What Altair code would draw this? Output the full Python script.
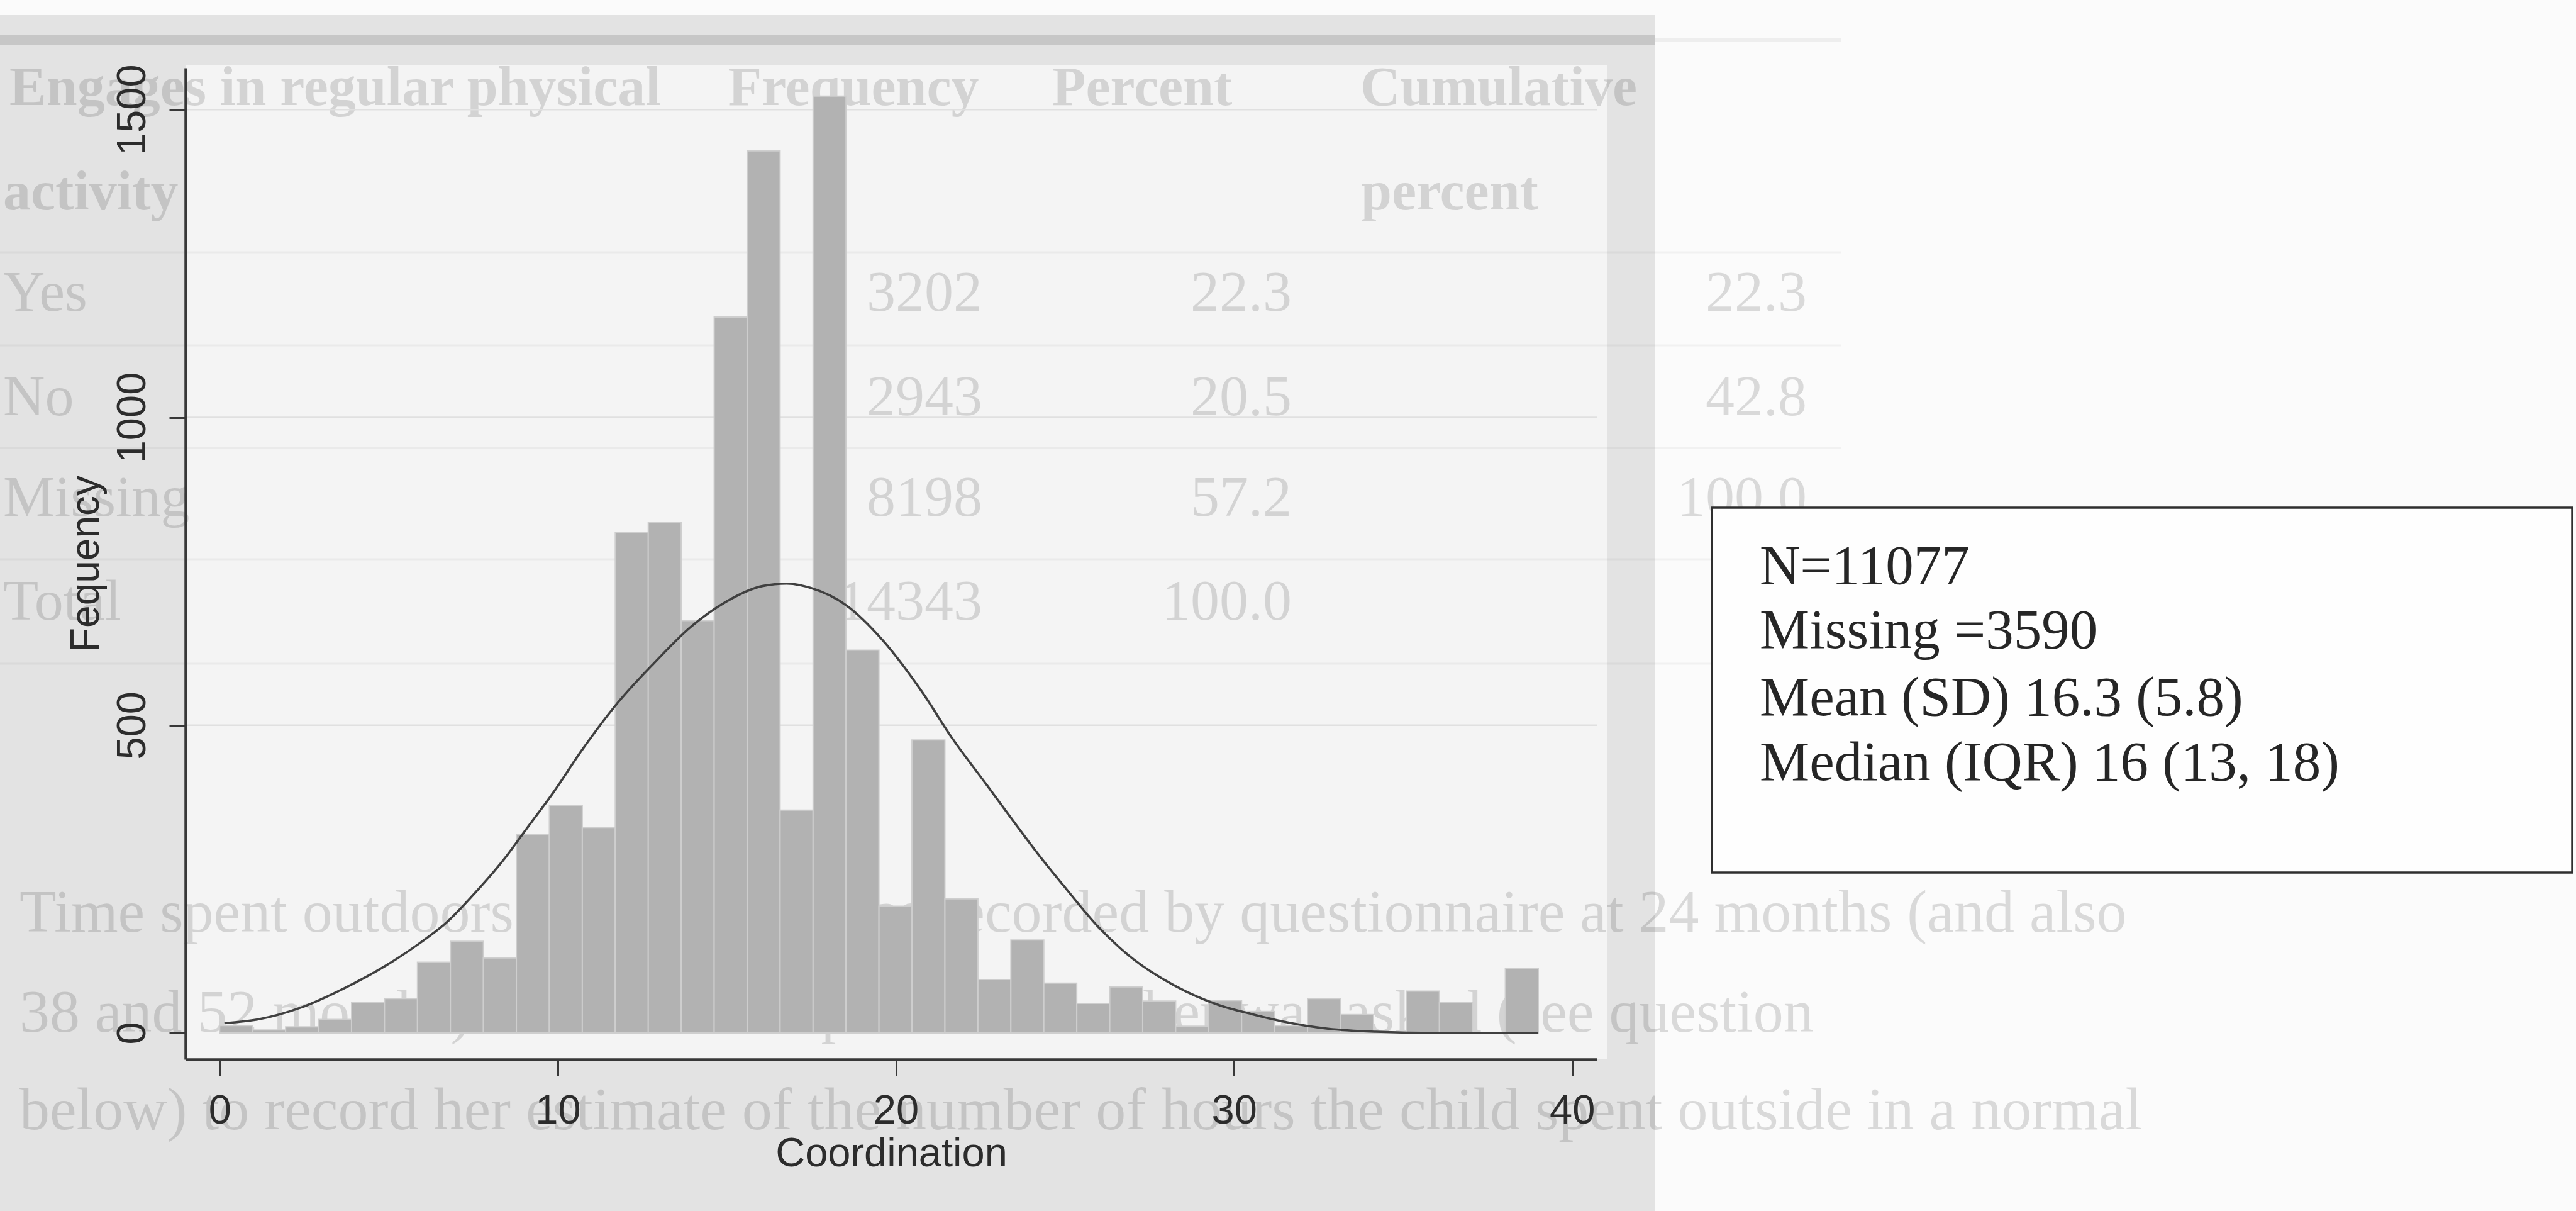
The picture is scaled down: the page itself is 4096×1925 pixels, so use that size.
import altair as alt
import pandas as pd

# ---------------- data ----------------
scores = list(range(40))                      # Coordination score of each bar
counts = [12, 5, 10, 22, 50, 56, 115, 149, 122, 323,
          370, 334, 813, 829, 670, 1163, 1433, 362, 1522, 622,
          206, 476, 218, 87, 151, 81, 48, 75, 52, 11,
          53, 35, 12, 56, 30, 2, 68, 50, 0, 105]
N_BINS = 40
SCORE_MAX = 39

# fitted normal curve
curve_x = [0.14, 1.13, 2.39, 3.66, 4.93, 5.92, 6.76, 7.46, 8.45, 9.08,
           9.86, 10.72, 11.78, 12.85, 13.92, 14.99, 16.05, 16.77, 17.48, 18.55,
           19.61, 20.8, 21.65, 22.7, 23.37, 24.3, 24.95, 25.94, 26.93, 28.24,
           29.57, 30.5, 31.42, 32.78, 34.2, 36.0, 39.0]
curve_y = [16, 22, 41, 72, 110, 146, 182, 222, 285, 332,
           390, 460, 537, 601, 659, 701, 726, 730, 723, 694,
           638, 552, 480, 402, 352, 284, 240, 175, 124, 77,
           45, 31, 19, 7, 2, 0, 0]

x_ticks = [0, 10, 20, 30, 40]
y_ticks = [0, 500, 1000, 1500]
grid_values = [500, 1000, 1500]

stats_lines = ["N=11077", "Missing =3590", "Mean (SD) 16.3 (5.8)", "Median (IQR) 16 (13, 18)"]

# faint bleed-through of the scanned page behind the graph
table_header = ["Engages in regular physical", "Frequency", "Percent", "Cumulative"]
table_header2 = ["activity", "percent"]
table_rows = ["Yes", "No", "Missing", "Total"]
table_freq = ["3202", "2943", "8198", "14343"]
table_pct = ["22.3", "20.5", "57.2", "100.0"]
table_cum = ["22.3", "42.8", "100.0"]
para_lines = [
    "Time spent outdoors by the child was recorded by questionnaire at 24 months (and also",
    "38 and 52 months). At each time point the mother was asked (see question",
    "below) to record her estimate of the number of hours the child spent outside in a normal",
]

# ---------------- tables ----------------
bw = SCORE_MAX / N_BINS
bars = pd.DataFrame({
    "score": scores,
    "bin_start": [s * bw for s in scores],
    "bin_end": [(s + 1) * bw for s in scores],
    "count": counts,
    "base": [0] * len(scores),
})
curve = pd.DataFrame({"x": curve_x, "y": curve_y})
grid = pd.DataFrame({"v": grid_values})
one = pd.DataFrame({"k": [0]})

# ---------------- layout (window pixels) ----------------
X0, Y0 = 295, 108          # plot-area origin in the window
W, H = 2244, 1576          # plot-area size
WIN_W, WIN_H = 4096, 1925

xscale = alt.Scale(domain=[-1.01, 40.73], nice=False, zero=False)
yscale = alt.Scale(domain=[-42.9, 1567.7], nice=False, zero=False)

AX_COL = "#383838"
LAB_COL = "#2c2c2c"
SANS = "Liberation Sans"
SERIF = "Liberation Serif"

x_axis = alt.Axis(values=x_ticks, format="d", title="Coordination", grid=False,
                  domainColor=AX_COL, domainWidth=4.5, tickColor=AX_COL, tickWidth=3, tickSize=26,
                  labelFont=SANS, labelFontSize=65, labelColor=LAB_COL, labelPadding=24,
                  labelFlush=False, labelOverlap=False,
                  titleFont=SANS, titleFontSize=65, titleFontWeight="normal", titleColor=LAB_COL,
                  titleBaseline="alphabetic", titleAlign="center", titleX=W / 2, titleY=169,
                  zindex=1)
y_axis = alt.Axis(values=y_ticks, format="d", title="Fequency", grid=False,
                  domainColor=AX_COL, domainWidth=4.5, tickColor=AX_COL, tickWidth=3, tickSize=26,
                  labelFont=SANS, labelFontSize=65, labelColor=LAB_COL, labelPadding=39,
                  labelAngle=270, labelAlign="center", labelBaseline="alphabetic",
                  labelFlush=False, labelOverlap=False,
                  titleFont=SANS, titleFontSize=64, titleFontWeight="normal", titleColor=LAB_COL,
                  titleAngle=270, titleAlign="center", titleBaseline="alphabetic",
                  titleX=-139, titleY=H / 2, zindex=1)


def rect(x1, y1, x2, y2, **mark):
    return alt.Chart(one).mark_rect(**mark).encode(
        x=alt.value(x1 - X0), x2=alt.value(x2 - X0),
        y=alt.value(y1 - Y0), y2=alt.value(y2 - Y0))


def hrule(x1, x2, y, **mark):
    return alt.Chart(one).mark_rule(**mark).encode(
        x=alt.value(x1 - X0), x2=alt.value(x2 - X0), y=alt.value(y - Y0))


def text(s, x, y, size, align="left", baseline="middle", font=SERIF, weight="normal",
         color="#000000", opacity=1.0):
    return alt.Chart(one).mark_text(text=s, align=align, baseline=baseline, fontSize=size,
                                    font=font, fontWeight=weight, color=color,
                                    opacity=opacity).encode(
        x=alt.value(x - X0), y=alt.value(y - Y0))


layers = []
# scanned-page grey around the graph and the lighter plot region
layers.append(rect(0, 24, 2632, WIN_H, color="#e3e3e3"))
layers.append(rect(X0, 104, 2555, 1684, color="#f4f4f4"))

# faint table rules of the page underneath
layers.append(hrule(0, 2632, 64, color="#000000", opacity=0.12, strokeWidth=16))
layers.append(hrule(2632, 2928, 64, color="#000000", opacity=0.05, strokeWidth=6))
for ry in [401, 549, 712, 889, 1055]:
    layers.append(hrule(0, 2928, ry, color="#000000", opacity=0.04, strokeWidth=3))

FAINT = 0.13
# header rows
hx = [(15, "left"), (1357, "center"), (1816, "center"), (2383, "center")]
for s, (x, al) in zip(table_header, hx):
    layers.append(text(s, x, 141, 88, align=al, weight="bold", opacity=FAINT))
layers.append(text(table_header2[0], 5, 307, 88, align="left", weight="bold", opacity=FAINT))
layers.append(text(table_header2[1], 2305, 307, 88, align="center", weight="bold", opacity=FAINT))
# body rows
row_y = [466, 632, 792, 957]
for i, ry in enumerate(row_y):
    layers.append(text(table_rows[i], 5, ry, 92, opacity=FAINT))
    layers.append(text(table_freq[i], 1562, ry, 92, align="right", opacity=FAINT))
    layers.append(text(table_pct[i], 2054, ry, 92, align="right", opacity=FAINT))
    if i < len(table_cum):
        layers.append(text(table_cum[i], 2873, ry, 92, align="right", opacity=FAINT))
# paragraph lines
for s, py in zip(para_lines, [1452, 1611, 1766]):
    layers.append(text(s, 31, py, 96, opacity=FAINT))

# horizontal gridlines at the y ticks
layers.append(alt.Chart(grid).mark_rule(color="#e0e0e0", strokeWidth=2.5).encode(
    y=alt.Y("v:Q", scale=yscale, axis=y_axis),
    x=alt.value(0), x2=alt.value(W)))

# histogram bars
layers.append(alt.Chart(bars).mark_rect(color="#b2b2b2", stroke="#cecece", strokeWidth=2).encode(
    x=alt.X("bin_start:Q", scale=xscale, axis=x_axis),
    x2="bin_end:Q",
    y=alt.Y("count:Q", scale=yscale, axis=y_axis),
    y2="base:Q"))

# normal curve
layers.append(alt.Chart(curve).mark_line(color="#404040", strokeWidth=3.6, interpolate="monotone").encode(
    x=alt.X("x:Q", scale=xscale, axis=x_axis),
    y=alt.Y("y:Q", scale=yscale, axis=y_axis)))

# statistics box
layers.append(rect(2722, 807, 4090, 1387, fill="#fefefe", stroke="#2f2f2f", strokeWidth=3.5))
for s, by in zip(stats_lines, [928, 1030, 1137, 1240]):
    layers.append(text(s, 2798, by, 89, baseline="alphabetic", color="#262626"))

chart = alt.layer(*layers).properties(
    width=W, height=H,
    autosize=alt.AutoSizeParams(type="none"),
    padding={"left": X0, "top": Y0, "right": WIN_W - X0 - W, "bottom": WIN_H - Y0 - H},
).configure(background="#fbfbfb").configure_view(stroke=None)

chart.save("out.html", embed_options={"renderer": "svg", "actions": False})
